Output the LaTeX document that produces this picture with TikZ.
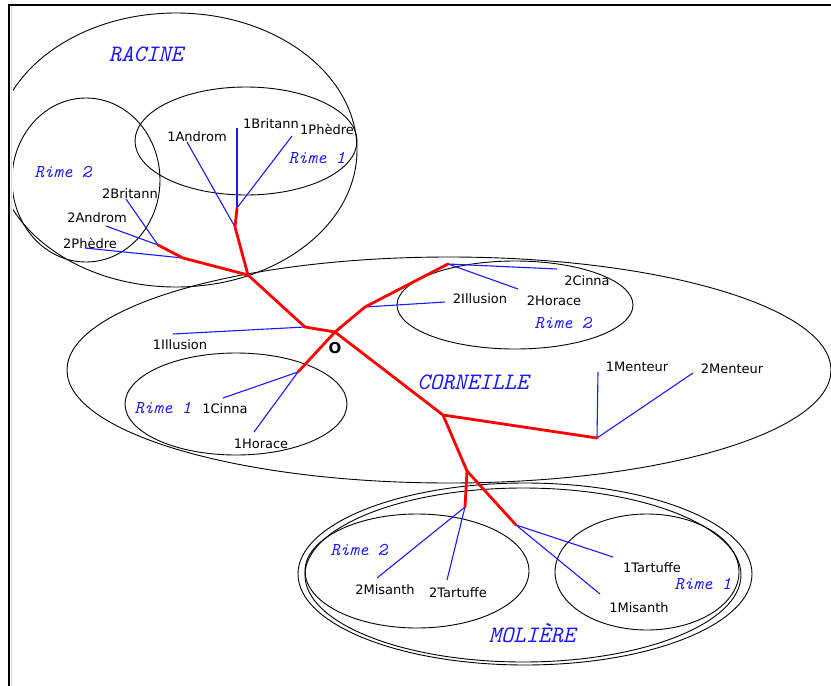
\documentclass[tikz,border=0pt]{standalone}
\usepackage{fontspec}
\setmainfont{DejaVu Sans}
\definecolor{lblue}{RGB}{25,25,255}
\definecolor{lred}{RGB}{255,0,0}
\tikzset{
  lbl/.style={inner sep=0pt, anchor=base, font=\fontsize{13}{15}\selectfont},
  biglbl/.style={inner sep=0pt, anchor=base, text=lblue, font=\ttfamily\itshape\fontsize{23.5}{26}\selectfont},
  rimelbl/.style={inner sep=0pt, anchor=base, text=lblue, font=\ttfamily\itshape\fontsize{18}{21}\selectfont},
  setline/.style={line width=0.9pt, black},
  redline/.style={line width=2.8pt, lred, line join=round, line cap=round},
  blueline/.style={line width=1.1pt, lblue}
}
\begin{document}
\begin{tikzpicture}[x=1pt,y=-1pt]
\useasboundingbox (0,0) rectangle (831,686);
\fill[white] (0,0) rectangle (831,686);
% frame
\draw[line width=2pt] (9,686) -- (9,5) -- (831,5);
\draw[black!15, line width=1.2pt] (11.6,686) -- (11.6,6.2);

% sets (ellipses)
\begin{scope}
\clip (13,6) rectangle (831,686);
\draw[setline] (176,150) ellipse [x radius=181pt, y radius=137pt];
\draw[setline] (246,141) ellipse [x radius=111pt, y radius=54pt];
\draw[setline] (86,180) ellipse [x radius=74pt, y radius=82pt];
\draw[setline] (449,370) ellipse [x radius=382pt, y radius=113pt];
\draw[setline] (515,305) ellipse [x radius=118pt, y radius=44pt];
\draw[setline] (236,404) ellipse [x radius=111pt, y radius=51pt];
\draw[setline] (525,574) ellipse [x radius=227pt, y radius=91pt];
\draw[setline] (523,575) ellipse [x radius=218pt, y radius=87pt];
\draw[setline] (417,571) ellipse [x radius=112pt, y radius=57pt];
\draw[setline] (647,572) ellipse [x radius=92pt, y radius=58pt];
\end{scope}

% junctions
\coordinate (A1) at (237,208);
\coordinate (A2) at (235,227);
\coordinate (R)  at (248,275);
\coordinate (B1) at (183,258);
\coordinate (B2) at (158,245);
\coordinate (C1) at (305,327);
\coordinate (O)  at (335,332);
\coordinate (D1) at (365,307);
\coordinate (D2) at (448,264);
\coordinate (E1) at (298,372);
\coordinate (F1) at (443,415);
\coordinate (F2) at (597,438);
\coordinate (G1) at (467,471);
\coordinate (G2) at (465,507);
\coordinate (G3) at (516,525);

% free ends of blue lines
\coordinate (e1Androm) at (187,142);
\coordinate (e1Britann) at (237,128);
\coordinate (e1Phedre) at (292,136);
\coordinate (e2Britann) at (126,199);
\coordinate (e2Androm) at (106,226);
\coordinate (e2Phedre) at (85,248);
\coordinate (e1Illusion) at (173,334);
\coordinate (e1Cinna) at (223,398);
\coordinate (e1Horace) at (254,432);
\coordinate (e2Illusion) at (445,302);
\coordinate (e2Cinna) at (557,269);
\coordinate (e2Horace) at (518,289);
\coordinate (e1Menteur) at (598,372);
\coordinate (e2Menteur) at (693,373);
\coordinate (e2Misanth) at (377,578);
\coordinate (e2Tartuffe) at (447,580);
\coordinate (e1Tartuffe) at (613,557);
\coordinate (e1Misanth) at (600,594);

% blue lines
\draw[blueline] (e1Androm) -- (A2);
\draw[blueline] (e1Britann) -- (A1);
\draw[blueline] (e1Phedre) -- (A1);
\draw[blueline] (e2Britann) -- (B2);
\draw[blueline] (e2Androm) -- (B2);
\draw[blueline] (e2Phedre) -- (B1);
\draw[blueline] (e1Illusion) -- (C1);
\draw[blueline] (e1Cinna) -- (E1);
\draw[blueline] (e1Horace) -- (E1);
\draw[blueline] (e2Illusion) -- (D1);
\draw[blueline] (e2Cinna) -- (D2);
\draw[blueline] (e2Horace) -- (D2);
\draw[blueline] (e1Menteur) -- (F2);
\draw[blueline] (e2Menteur) -- (F2);
\draw[blueline] (e2Misanth) -- (G2);
\draw[blueline] (e2Tartuffe) -- (G2);
\draw[blueline] (e1Tartuffe) -- (G3);
\draw[blueline] (e1Misanth) -- (G3);

% red tree
\draw[redline] (B2) -- (B1) -- (R);
\draw[redline] (A1) -- (A2) -- (R);
\draw[redline] (R) -- (C1) -- (O);
\draw[redline] (O) -- (D1) -- (D2);
\draw[redline] (O) -- (E1);
\draw[redline] (O) -- (F1) -- (F2);
\draw[redline] (F1) -- (G1) -- (G2);
\draw[redline] (G1) -- (G3);

% set labels
\node[biglbl] (tRacine) at (146,61) {RACINE};
\node[biglbl] (tCorneille) at (473,389) {CORNEILLE};
\node[biglbl] (tMoliere) at (532,642) {MOLIÈRE};
\node[rimelbl] (tR1) at (317,163) {Rime 1};
\node[rimelbl] (tR2) at (63,177) {Rime 2};
\node[rimelbl] (tC1) at (163,413) {Rime 1};
\node[rimelbl] (tC2) at (563,328) {Rime 2};
\node[rimelbl] (tM2) at (359,555) {Rime 2};
\node[rimelbl] (tM1) at (703,589) {Rime 1};

% leaf labels
\node[lbl] (t1Britann) at (271,128) {1Britann};
\node[lbl] (t1Phedre) at (327,134) {1Phèdre};
\node[lbl] (t1Androm) at (197,141) {1Androm};
\node[lbl] (t2Britann) at (130,198) {2Britann};
\node[lbl] (t2Androm) at (97,222) {2Androm};
\node[lbl] (t2Phedre) at (90,248) {2Phèdre};
\node[lbl] (t1Illusion) at (180,349) {1Illusion};
\node[lbl] (t1Cinna) at (225,413) {1Cinna};
\node[lbl] (t1Horace) at (261,448) {1Horace};
\node[lbl] (t2Cinna) at (587,285) {2Cinna};
\node[lbl] (t2Illusion) at (480,303) {2Illusion};
\node[lbl] (t2Horace) at (554,305) {2Horace};
\node[lbl] (t1Menteur) at (637,371) {1Menteur};
\node[lbl] (t2Menteur) at (732,373) {2Menteur};
\node[lbl] (t2Misanth) at (385,594) {2Misanth};
\node[lbl] (t2Tartuffe) at (458,597) {2Tartuffe};
\node[lbl] (t1Tartuffe) at (652,572) {1Tartuffe};
\node[lbl] (t1Misanth) at (639,612) {1Misanth};
\node[inner sep=0pt, anchor=base, font=\bfseries\fontsize{15}{17}\selectfont] (tO) at (335,353) {O};
\end{tikzpicture}
\end{document}
